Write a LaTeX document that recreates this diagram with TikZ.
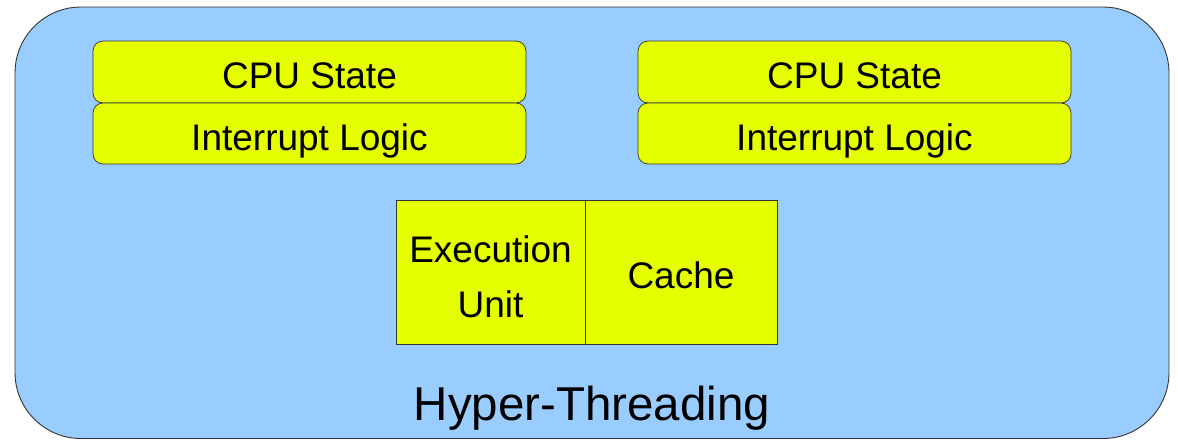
\documentclass[tikz,border=0pt]{standalone}
\usepackage{fontspec}
\setmainfont{Liberation Sans}
\begin{document}
\begin{tikzpicture}[x=1pt,y=-1pt,
  panel/.style={draw=black!80,line width=0.9pt,fill=htblue,rounded corners=66pt},
  unitbox/.style={draw=black!80,line width=0.7pt,fill=htyellow,inner sep=0pt},
  label font/.style={font=\fontsize{37}{55}\selectfont},
  unit/.style={unitbox,label font,text height=38pt,text depth=5pt},
  softunit/.style={unit,rounded corners=10pt},
  unittext/.style={label font,inner sep=0pt,align=center},
  title/.style={font=\fontsize{47.5}{56}\selectfont,inner sep=0pt,text height=34pt,text depth=9pt}
]
\definecolor{htblue}{HTML}{99CCFF}
\definecolor{htyellow}{HTML}{E6FF00}
\useasboundingbox (0,0) rectangle (1178,440);

% outer hyper-threading core
\draw[panel] (15,7) rectangle (1169,438.5);

% logical processor, left
\node[softunit,minimum width=433pt,minimum height=62pt] (cpuL) at (309.5,72) {CPU State};
\node[softunit,minimum width=433pt,minimum height=61pt] (intL) at (309.5,133.5) {Interrupt Logic};

% logical processor, right
\node[softunit,minimum width=433pt,minimum height=62pt] (cpuR) at (854.5,72) {CPU State};
\node[softunit,minimum width=433pt,minimum height=61pt] (intR) at (854.5,133.5) {Interrupt Logic};

% shared resources
\node[unitbox,minimum width=189pt,minimum height=144pt] (exec) at (490.5,272) {};
\node[unittext] (execText) at ([yshift=-5pt]exec.center) {Execution\\Unit};
\node[unit,minimum width=192pt,minimum height=144pt] (cache) at (681,272) {Cache};

\node[title] (ht) at (592,408) {Hyper-Threading};
\end{tikzpicture}
\end{document}
